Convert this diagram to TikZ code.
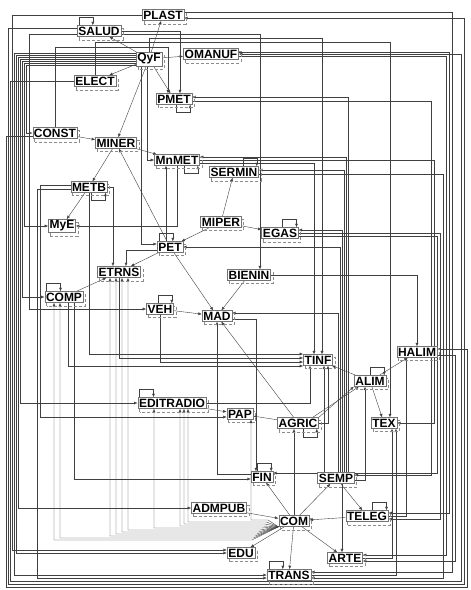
\documentclass[tikz,border=0pt]{standalone}
\usepackage{fontspec}
\setmainfont{Liberation Sans}
\usetikzlibrary{arrows.meta,backgrounds}
\newcommand{\sectorfont}{\fontsize{12}{13}\selectfont\bfseries}
\def\sectorlist{PLAST/163/15,SALUD/99/31,QyF/149/59,OMANUF/211/54,
 ELECT/95/81,PMET/174/99,CONST/55/133,MINER/116/143,MnMET/177/160,
 SERMIN/234/172,METB/89/187,MyE/62/226,MIPER/221/222,EGAS/280/233,
 PET/170/247,ETRNS/119/272,BIENIN/249/275,COMP/64/297,VEH/160/309,
 MAD/217/316,TINF/318/360,HALIM/417/352,ALIM/370/381,EDITRADIO/172/403,
 PAP/240/414,AGRIC/298/423,TEX/384/423,FIN/262/477,SEMP/336/478,
 ADMPUB/219/508,COM/294/521,TELEG/367/516,EDU/241/553,ARTE/345/558,
 TRANS/289/575}

\begin{document}
\begin{tikzpicture}[x=1pt,y=-1pt,>={Latex[length=3.5pt,width=3pt]},
 sector/.style={draw=black!55,fill=white,inner sep=1.3pt,font=\sectorfont},
 shade/.style={densely dashed,black!45,line width=.4pt},
 route/.style={->,black!75,line width=.4pt},
 loopback/.style={->,black!75,line width=.4pt}]
\useasboundingbox (0,0) rectangle (471,590);
% sectors
\foreach \n/\x/\y in \sectorlist
 \node[sector] (\n) at (\x,\y) {\n};

\begin{pgfonlayer}{background}
% direct links
\foreach \a/\b in {QyF/PLAST,QyF/SALUD,QyF/ELECT,QyF/PMET,QyF/MINER,QyF/OMANUF,
 MINER/MnMET,MINER/METB,CONST/MINER,METB/MyE,PET/MINER,PET/ETRNS,
 MIPER/PET,MIPER/SERMIN,MIPER/EGAS,PET/MAD,BIENIN/MAD,VEH/MAD,COMP/ETRNS,
 ALIM/TINF,ALIM/HALIM,ALIM/TEX,AGRIC/PAP,EDITRADIO/PAP,AGRIC/MAD,
 COM/FIN,COM/SEMP,COM/EDU,COM/ARTE,COM/TRANS,TELEG/COM,ADMPUB/COM,SEMP/TELEG}
 \draw[route] (\a) -- (\b);
\draw[route] ([xshift=-4pt]PET.north) -- ([xshift=-4pt]PET.north |- MnMET.south);
\draw[route] (COM.north) -- (COM.north |- AGRIC.south);
\draw[route] ([xshift=6pt]SEMP.south) -- ([xshift=6pt]SEMP.south |- ARTE.north);
\draw[route] (AGRIC.north east) -- (ALIM.south west);
\draw[route] ([xshift=-6pt]AGRIC.north east) -- ([xshift=5pt]ALIM.south west);

% left band out of QyF
\foreach \t/\lx/\dy in {CONST/26/-6,MyE/24/-4,COMP/22/-2,EDITRADIO/20/0,
 ADMPUB/18/2,EDU/16/4,TRANS/14/6} {
 \coordinate (src) at ([yshift=\dy pt]QyF.west);
 \coordinate (lane) at (\lx,0);
 \draw[route] (src) -- (src -| lane) |- (\t.west);
}
\foreach \s/\sy/\t/\ty/\lx in {PLAST/0/EDU/3/12,SALUD/-3/VEH/0/29,
 METB/2/PAP/-3/40,METB/-2/TRANS/-3/37} {
 \coordinate (src) at ([yshift=\sy pt]\s.west);
 \coordinate (lane) at (\lx,0);
 \draw[route] (src) -- (src -| lane) |- ([yshift=\ty pt]\t.west);
}
% round the frame
\foreach \s/\sy/\t/\ty/\lx/\by/\rx in {CONST/-3/HALIM/3/6/587/467,
 SALUD/3/PLAST/-3/8/584/464,ELECT/0/OMANUF/0/10/581/461} {
 \coordinate (L) at (\lx,0);
 \coordinate (Bt) at (0,\by);
 \coordinate (R) at (\rx,0);
 \coordinate (src) at ([yshift=\sy pt]\s.west);
 \coordinate (dst) at ([yshift=\ty pt]\t.east);
 \draw[route] (src) -- (src -| L) -- (L |- Bt) -- (R |- Bt) -- (dst -| R) -- (dst);
}
% right band
\foreach \s/\sy/\t/\ty/\rx in {PLAST/3/TRANS/3/452,OMANUF/2/TELEG/3/449,
 OMANUF/-2/ARTE/3/446,SERMIN/-2/TRANS/-3/443,EGAS/0/TELEG/-3/440,
 EGAS/-3/FIN/4/437,MnMET/0/TEX/0/434,PMET/-2/SEMP/3/431,HALIM/-3/ARTE/-3/455} {
 \coordinate (src) at ([yshift=\sy pt]\s.east);
 \coordinate (lane) at (\rx,0);
 \draw[route] (src) -- (src -| lane) |- ([yshift=\ty pt]\t.east);
}
% up out of SEMP
\foreach \t/\dx/\ty in {PMET/12/2,MnMET/10/3,SERMIN/8/2,EGAS/6/3,PET/4/0,MAD/2/3} {
 \coordinate (src) at ([xshift=\dx pt]SEMP.north);
 \draw[route] (src) |- ([yshift=\ty pt]\t.east);
}
% down out of QyF
\foreach \t/\dx/\ty in {MnMET/-2/0,PET/-8/3} {
 \coordinate (src) at ([xshift=\dx pt]QyF.south);
 \draw[route] (src) |- ([yshift=\ty pt]\t.west);
}
\foreach \s/\dx/\t/\ty in {METB/0/TINF/6,ETRNS/0/TINF/2,VEH/0/TINF/-2,
 COMP/4/TINF/-6,COMP/10/FIN/-2} {
 \coordinate (src) at ([xshift=\dx pt]\s.south);
 \draw[route] (src) |- ([yshift=\ty pt]\t.west);
}
\draw[route] (SALUD.east) -| ([xshift=6pt]PMET.north);
\draw[route] ([yshift=-3pt]SALUD.east) -| ([xshift=11pt]BIENIN.north);
\draw[route] (METB.east) -| ([xshift=-6pt]ETRNS.north);
\draw[route] ([yshift=-3pt]PET.west) -| ([xshift=7pt]ETRNS.north);
\draw[route] (BIENIN.east) -| (HALIM.north);
\draw[route] ([yshift=-3pt]MnMET.east) -| ([xshift=-4pt]TINF.north);
\draw[route] (MnMET.south) |- (MyE.east);
\coordinate (topA) at (0,38);
\coordinate (topB) at (0,42);
\coordinate (topC) at (0,47);
\draw[route] (QyF.north) -- (QyF.north |- topA) -| ([xshift=4pt]TINF.north);
\draw[route] (ELECT.north) -- (ELECT.north |- topB) -| ([xshift=6pt]TEX.north);
\draw[route] (CONST.north) -- (CONST.north |- topC) -| ([xshift=-6pt]PMET.north);
\draw[route] ([yshift=3pt]FIN.west) -| (MAD.south);
\draw[route] ([yshift=-3pt]MAD.east) -| ([xshift=-6pt]FIN.north);
\draw[route] ([xshift=-12pt]SEMP.north) -- ([xshift=-12pt]SEMP.north |- TINF.south);
\draw[route] (AGRIC.east) -| ([xshift=10pt]TINF.south);
\draw[route] (EDITRADIO.east) -| ([xshift=-8pt]TINF.south);
\draw[route] (TELEG.east) -| ([xshift=-11pt]HALIM.south);
\draw[route] ([yshift=-2pt]SEMP.east) -| ([xshift=-5pt]ALIM.south);
\draw[route] (ARTE.east) -| ([xshift=8pt]TEX.south);
\draw[route] (TRANS.east) -| ([xshift=12pt]TEX.south);
% fan out of COM
\foreach \t/\dx/\k in {PAP/11/0,EDITRADIO/16/1,EDITRADIO/12/2,EDITRADIO/8/3,
 EDITRADIO/-18/4,ETRNS/9/5,ETRNS/3/6,ETRNS/-3/7,ETRNS/-9/8,COMP/-4/9,COMP/-10/10} {
 \coordinate (fan) at ({268-1.6*\k},{520+2*\k});
 \draw[route] (COM.south west) -- (fan) -| ([xshift=\dx pt]\t.south);
}
% self loops
\foreach \n in {SALUD,EDITRADIO,TRANS,COMP,PET}
 \draw[loopback] ([xshift=2pt]\n.north west) -- ++(0,-8) -- ++(14,0) -- ++(0,8);
\foreach \n in {VEH,EGAS,FIN,TELEG,ALIM,SERMIN}
 \draw[loopback] ([xshift=-16pt]\n.north east) -- ++(0,-8) -- ++(14,0) -- ++(0,8);
\foreach \n in {PMET,METB,MnMET,AGRIC}
 \draw[loopback] ([xshift=-16pt]\n.south east) -- ++(0,8) -- ++(14,0) -- ++(0,-8);
% dashed frames
\foreach \n/\x/\y in \sectorlist
 \draw[shade] ([shift={(2pt,-3pt)}]\n.south west) rectangle ([shift={(2pt,-3pt)}]\n.north east);
\end{pgfonlayer}
\end{tikzpicture}
\end{document}
